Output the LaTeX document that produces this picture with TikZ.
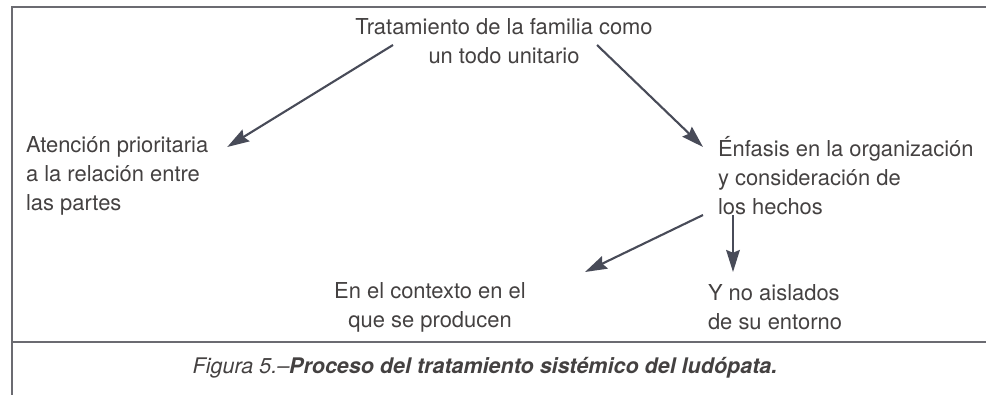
\documentclass[tikz,border=0pt]{standalone}
\usepackage{fontspec}
\setmainfont{TeX Gyre Heros}
\newcommand*{\figfont}{\fontsize{15.6}{20.6}\selectfont}
\newcommand*{\capfont}{\fontsize{15.3}{18}\selectfont\itshape}
\definecolor{texto}{cmyk}{0.00,0.00,0.00,0.85}
\definecolor{flecha}{cmyk}{0.25,0.12,0.00,0.72}
\definecolor{marco}{cmyk}{0.10,0.05,0.00,0.62}
\usetikzlibrary{arrows.meta}
\usetikzlibrary{positioning}
\tikzstyle{base}=[x=0.025cm, y=-0.025cm, inner sep=0pt, outer sep=0pt]
\tikzstyle{caja}=[text=texto, font=\figfont]
\tikzstyle{izq}=[caja, anchor=west, align=left]
\tikzstyle{cen}=[caja, align=center]
\tikzstyle{conector}=[flecha, line width=1.5pt, -{Stealth[length=5.5mm,width=3.4mm,inset=0.7mm]}]
\tikzstyle{linea}=[marco, line width=1.3pt]

\begin{document}
\begin{tikzpicture}[base]
    \figfont
        \path [use as bounding box] (0,0) rectangle (986,395);
        \draw [linea] (986,7) -- (12,7) -- (12,395);
        \draw [linea] (12,342) -- (986,342);
        \node [cen] (tratamiento) at (504,41) {Tratamiento de la familia como\\un todo unitario};
        \node [izq] (atencion) at (26,176) {Atención prioritaria\\a la relación entre\\las partes};
        \node [izq] (enfasis) at (718,176) {Énfasis en la organización\\y consideración de\\los hechos};
        \node [cen] (contexto) at (430,307) {En el contexto en el\\que se producen};
        \node [izq] (aislados) at (708,307) {Y no aislados\\de su entorno};
        \node [text=texto, font=\capfont] (figura) at (485,368) {Figura 5.--\textbf{Proceso del tratamiento sistémico del ludópata.}};
        \draw [conector] ([shift={(-111,4)}]tratamiento.center) -- ([shift={(19,-29)}]atencion.east);
        \draw [conector] ([shift={(93,4)}]tratamiento.center) -- ([shift={(-15,-29)}]enfasis.west);
        \draw [conector] ([shift={(-15,39)}]enfasis.west) -- ([shift={(155,-35)}]contexto.center);
        \draw [conector] ([shift={(15,39)}]enfasis.west) -- ([shift={(25,-35)}]aislados.west);
    \end{tikzpicture}
\end{document}
